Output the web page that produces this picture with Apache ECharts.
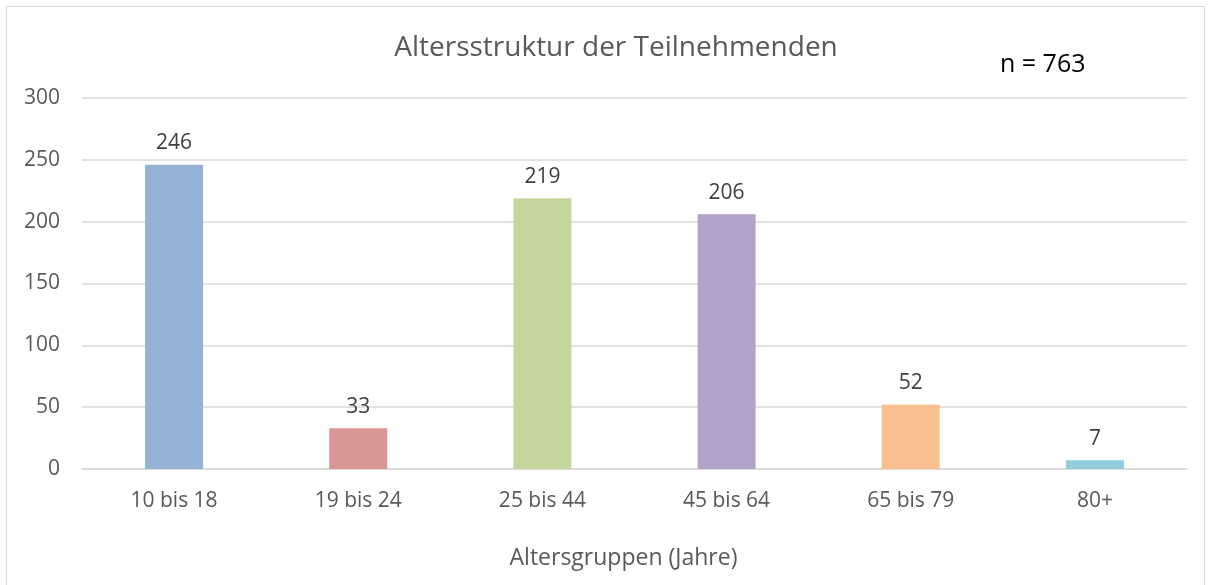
<!DOCTYPE html>
<html>
<head>
<meta charset="utf-8">
<script src="https://cdn.jsdelivr.net/npm/echarts@6/dist/echarts.min.js"></script>
<style>html,body{margin:0;padding:0;background:#fff}#c{width:1211px;height:585px}</style>
</head>
<body>
<div id="c"></div>
<script>
const categories = ['10 bis 18', '19 bis 24', '25 bis 44', '45 bis 64', '65 bis 79', '80+'];
const values = [246, 33, 219, 206, 52, 7];
const barColors = ['#95B3D7', '#D99694', '#C3D69B', '#B3A2C7', '#FAC090', '#93CDDD'];
const titleText = 'Altersstruktur der Teilnehmenden';
const noteText = 'n = 763';
const xAxisName = 'Altersgruppen (Jahre)';

const FONT = '"Open Sans", sans-serif';
const chart = echarts.init(document.getElementById('c'), null, {renderer: 'canvas'});
chart.setOption({
  backgroundColor: '#fff',
  animation: false,
  graphic: [{
    type: 'rect', shape: {x: 6.5, y: 6.5, width: 1198, height: 590},
    style: {fill: 'none', stroke: '#d9d9d9', lineWidth: 1}, silent: true
  }],
  title: [
    {text: titleText, left: 611, textAlign: 'center', top: 29,
     textStyle: {fontFamily: FONT, fontSize: 28, fontWeight: 'normal', color: '#595959'}},
    {text: noteText, left: 995, top: 47,
     textStyle: {fontFamily: FONT, fontSize: 25, fontWeight: 'normal', color: '#000'}}
  ],
  grid: {left: 82, right: 24, top: 98, bottom: 116, containLabel: false},
  xAxis: {
    type: 'category', data: categories,
    axisLine: {lineStyle: {color: '#d9d9d9', width: 1.5}},
    axisTick: {show: false},
    axisLabel: {fontFamily: FONT, fontSize: 21, color: '#595959', margin: 22},
    name: xAxisName, nameLocation: 'middle', nameGap: 78,
    nameTextStyle: {fontFamily: FONT, fontSize: 23, color: '#595959', padding: [0, 22, 0, 0]}
  },
  yAxis: {
    type: 'value', min: 0, max: 300, interval: 50,
    axisLine: {show: false}, axisTick: {show: false},
    splitLine: {lineStyle: {color: '#d9d9d9', width: 1.5}},
    axisLabel: {fontFamily: FONT, fontSize: 21, color: '#595959', margin: 22}
  },
  series: [{
    type: 'bar', data: values.map((v, i) => ({value: v, itemStyle: {color: barColors[i]}})),
    barWidth: 58,
    label: {show: true, position: 'top', distance: 11, fontFamily: FONT, fontSize: 21, color: '#404040'}
  }]
});
</script>
</body>
</html>
